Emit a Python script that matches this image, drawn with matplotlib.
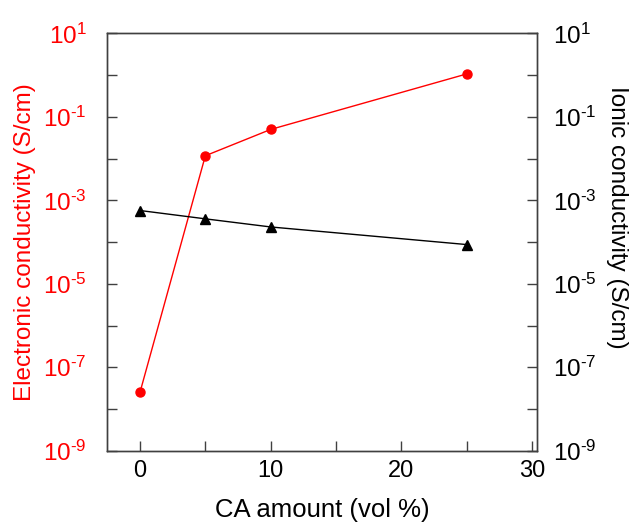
import matplotlib
matplotlib.use("Agg")
import math
import matplotlib.pyplot as plt
from matplotlib.ticker import FixedLocator, FuncFormatter

plt.rcParams['font.family'] = ['Liberation Sans', 'DejaVu Sans']
plt.rcParams['mathtext.fontset'] = 'custom'
plt.rcParams['mathtext.rm'] = 'Liberation Sans'
plt.rcParams['mathtext.default'] = 'regular'

# data
ca_amount = [0, 5, 10, 25]
electronic = [2.5e-8, 1.17e-2, 5.0e-2, 1.07]
ionic = [5.7e-4, 3.6e-4, 2.3e-4, 8.7e-5]

label_decades = [1, -1, -3, -5, -7, -9]
all_decades = list(range(-9, 2))

RED = '#ff0000'
AX = '#404040'

fig = plt.figure(figsize=(6.33, 5.22), dpi=100)
ax = fig.add_axes([0.1695, 0.1366, 0.849 - 0.1695, 0.936 - 0.1366])
ax2 = ax.twinx()

ax.plot(ca_amount, electronic, color=RED, lw=1, marker='o', ms=6.5, zorder=3)
ax2.plot(ca_amount, ionic, color='black', lw=1, marker='^', ms=6.5, zorder=3)

def fmt(v, pos):
    e = int(round(math.log10(v)))
    if e in label_decades:
        if e < 0:
            return r'$10^{\text{-}%d}$' % (-e)
        return r'$10^{%d}$' % e
    return ''

for a, c, p in ((ax, RED, 15), (ax2, 'black', 11)):
    a.set_yscale('log')
    a.set_ylim(1e-9, 1e1)
    a.yaxis.set_major_locator(FixedLocator([10.0 ** d for d in all_decades]))
    a.yaxis.set_minor_locator(FixedLocator([]))
    a.yaxis.set_major_formatter(FuncFormatter(fmt))
    a.tick_params(axis='y', direction='in', length=7, width=1, color=AX,
                  labelsize=17.5, labelcolor=c, pad=p)
    for s in a.spines.values():
        s.set_color(AX)
        s.set_linewidth(1)

ax.set_xlim(-2.5, 30.4)
ax.set_xticks([0, 10, 20, 30])
ax.set_xticks([5, 15, 25], minor=True)
ax.tick_params(axis='x', which='both', direction='in', length=7, width=1,
               color=AX, labelsize=17, pad=7)

ax.set_xlabel('CA amount (vol %)', fontsize=18.5, labelpad=11)
ax.set_ylabel('Electronic conductivity (S/cm)', fontsize=17.5, color=RED, labelpad=5)
ax2.set_ylabel('Ionic conductivity (S/cm)', fontsize=17.5, rotation=-90, labelpad=23)
ax2.yaxis.label.set_y(0.56)

fig.savefig('out.png', dpi=100)
